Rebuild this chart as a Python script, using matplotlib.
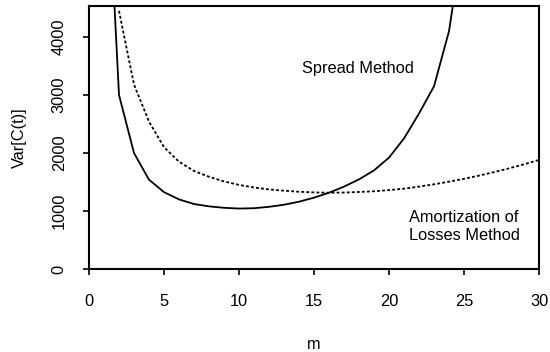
import matplotlib
matplotlib.use("Agg")
import matplotlib.pyplot as plt

plt.rcParams["font.family"] = ["Liberation Sans", "DejaVu Sans"]

# Var[C(t)] against m for the two loss-handling methods
m_spread = [1, 2, 3, 4, 5, 6, 7, 8, 9, 10, 11, 12, 13, 14, 15, 16, 17, 18,
            19, 20, 21, 22, 23, 24, 25]
var_spread = [8100, 3000, 2000, 1540, 1325, 1200, 1120, 1080, 1055, 1042,
              1048, 1072, 1108, 1160, 1230, 1315, 1420, 1545, 1700, 1920,
              2250, 2680, 3150, 4100, 5800]

m_amort = [2, 3, 4, 5, 6, 7, 8, 9, 10, 11, 12, 13, 14, 15, 16, 17, 18, 19,
           20, 21, 22, 23, 24, 25, 26, 27, 28, 29, 30]
var_amort = [4450, 3180, 2540, 2100, 1850, 1690, 1590, 1510, 1450, 1405,
             1372, 1350, 1332, 1320, 1315, 1318, 1328, 1340, 1360, 1385,
             1420, 1460, 1505, 1555, 1610, 1670, 1735, 1805, 1880]

fs = 11.8

fig = plt.figure(figsize=(5.5, 3.52), dpi=100)
ax = fig.add_axes([89 / 550, 1 - 269 / 352, 450 / 550, 263 / 352])

ax.plot(m_spread, var_spread, color="black", lw=1.3)
ax.plot(m_amort, var_amort, color="black", lw=1.3, linestyle=(0, (1.6, 1.2)))

ax.set_xlim(0, 30)
ax.set_ylim(0, 4534)
ax.set_xticks(range(0, 31, 5))
ax.set_yticks(range(0, 4001, 1000))
ax.tick_params(direction="out", length=4, width=1.2, labelsize=fs,
               colors="black")
ax.tick_params(axis="x", pad=14)
ax.tick_params(axis="y", pad=12)
for lab in ax.get_yticklabels():
    lab.set_rotation(90)
    lab.set_va("center")
for sp in ax.spines.values():
    sp.set_linewidth(1.5)

ax.set_xlabel("m", fontsize=fs, labelpad=20)
ax.set_ylabel("Var[C(t)]", fontsize=fs, labelpad=18)

ax.text(17.9, 3450, "Spread Method", fontsize=fs, ha="center", va="center")
ax.text(25.0, 730, "Amortization of\nLosses Method", fontsize=fs,
        ha="center", va="center", linespacing=1.25)

fig.savefig("out.png", dpi=100)
